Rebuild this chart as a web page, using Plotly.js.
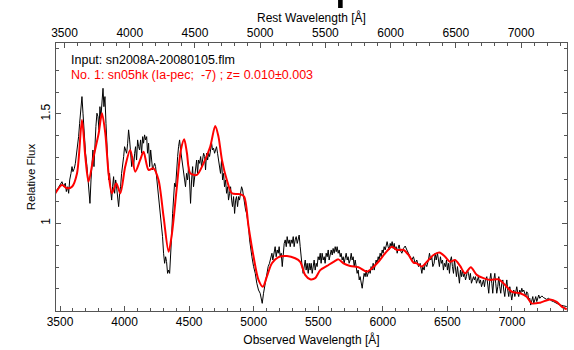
<!DOCTYPE html>
<html>
<head>
<meta charset="utf-8">
<script src="https://cdn.plot.ly/plotly-3.0.1.min.js"></script>
<style>html,body{margin:0;padding:0;background:#fff;}#chart{width:574px;height:350px;}</style>
</head>
<body>
<div id="chart"></div>
<script>
// Observed spectrum (black)
const blackWl = [3464,3490,3502,3515,3528,3541,3549,3559,3567,3575,3585,3593,3600,3611,3619,3626,3637,3644,3652,3662,3670,3678,3683,3691,3698,3709,3717,3724,3732,3740,3748,3755,3763,3771,3778,3786,3794,3802,3809,3817,3825,3833,3840,3848,3856,3864,3869,3877,3884,3892,3900,3907,3915,3923,3931,3938,3946,3954,3962,3969,3977,3985,3993,4000,4008,4016,4024,4031,4039,4047,4055,4062,4070,4078,4085,4093,4101,4109,4116,4124,4132,4140,4147,4155,4163,4171,4178,4186,4194,4202,4209,4217,4225,4233,4240,4248,4256,4264,4271,4279,4287,4294,4302,4310,4318,4325,4333,4341,4349,4356,4364,4372,4380,4387,4395,4403,4411,4418,4426,4434,4442,4449,4457,4465,4472,4480,4488,4496,4503,4511,4519,4527,4534,4542,4550,4558,4565,4573,4581,4589,4596,4604,4612,4620,4627,4635,4643,4651,4658,4666,4674,4681,4689,4697,4705,4712,4720,4728,4736,4743,4751,4759,4767,4774,4782,4790,4798,4805,4813,4821,4829,4836,4844,4852,4860,4867,4875,4883,4890,4898,4906,4914,4921,4929,4937,4945,4952,4960,4968,
4973,4986,4999,5012,5024,5037,5050,5058,5066,5076,5084,5092,5102,5112,5122,5133,5141,5148,5159,5166,5174,5182,5190,5197,5205,5213,5221,5228,5236,5244,5252,5259,5267,5275,5283,5290,5298,5306,5313,5321,5329,5337,5344,5352,5360,5368,5375,5383,5391,5399,5406,5414,5422,5430,5437,5445,5453,5461,5468,5476,5484,5491,5499,5507,5515,5522,5530,5538,5546,5553,5561,5569,5577,5584,5592,5600,5608,5615,5623,5631,5639,5646,5654,5662,5670,5677,5685,5693,5700,5708,5716,5724,5731,5739,5747,5755,5762,5770,5778,5786,5793,5801,5809,5817,5824,5832,5840,5848,5855,5863,5871,5878,5886,5894,5902,5909,5917,5925,5933,5940,5948,5956,5964,5971,5979,5987,5995,6002,6010,6018,6026,6033,6041,6049,6057,6064,6072,6080,6088,6095,6103,6111,6118,6126,6134,
6147,6160,6173,6186,6199,6211,6224,6237,6250,6263,6276,6289,6302,6309,6320,6328,6340,6353,6361,6371,6379,6387,6397,6405,6413,6423,6431,6438,6446,6454,6462,6469,6477,6485,6493,6500,6508,6516,6524,6531,6539,6547,6555,6562,6570,6578,6586,6593,6601,6609,6616,6624,6632,6640,6647,6655,6663,6671,6678,6686,6694,6702,6709,6717,6725,6733,6740,6748,6756,6764,6771,6779,6787,6794,6805,6813,6820,6828,6836,6844,6851,6859,6867,6874,6882,6890,6898,6905,6913,6921,6929,6936,6944,6952,6960,6967,6975,6983,6991,6998,7006,7014,7022,7029,7037,7045,7052,7060,7068,7076,7083,7091,7099,7107,7114,7122,7130,7138,7145,7153,7161,7169,7176,7184,7192,7200,7207,7215,7223,7231,7243,7256,7269,7282,7295,7308,7321,7334,7347,7372,7398,7424];
const blackFlux = [1.140,1.167,1.183,1.190,1.167,1.183,1.145,1.167,1.137,1.198,1.228,1.259,1.236,1.251,1.274,1.305,1.350,1.396,1.457,1.533,1.579,1.503,1.442,1.381,1.320,1.259,1.198,1.122,1.091,1.198,1.305,1.335,1.259,1.381,1.442,1.503,1.487,1.427,1.533,1.487,1.564,1.617,1.533,1.579,1.457,1.381,1.289,1.198,1.228,1.152,1.106,1.167,1.213,1.137,1.198,1.167,1.106,1.076,1.137,1.167,1.228,1.259,1.305,1.350,1.335,1.320,1.366,1.427,1.381,1.335,1.259,1.305,1.259,1.320,1.350,1.289,1.381,1.350,1.335,1.381,1.320,1.396,1.366,1.404,1.381,1.396,1.320,1.366,1.259,1.335,1.274,1.244,1.259,1.274,1.259,1.213,1.183,1.122,1.076,1.045,0.985,0.939,0.863,0.817,0.847,0.825,0.771,0.786,0.771,0.832,0.939,1.045,1.106,1.183,1.167,1.259,1.305,1.350,1.381,1.335,1.305,1.259,1.244,1.198,1.167,1.228,1.198,1.259,1.198,1.091,1.198,1.259,1.167,1.213,1.244,1.289,1.228,1.289,1.274,1.305,1.259,1.289,1.320,1.305,1.244,1.320,1.289,1.320,1.305,1.335,1.366,1.335,1.343,1.320,1.335,1.350,1.320,1.289,1.259,1.228,1.289,1.198,1.228,1.167,1.198,1.137,1.167,1.106,1.137,1.167,1.106,1.076,1.122,1.045,1.106,1.122,1.076,1.122,1.106,1.137,1.167,1.152,1.122,1.091,1.061,1.045,1.015,0.985,0.924,
0.908,0.847,0.802,0.771,0.726,0.695,0.680,0.649,0.634,0.680,0.710,0.741,0.771,0.802,0.817,0.847,0.863,0.832,0.878,0.893,0.847,0.878,0.863,0.893,0.847,0.863,0.802,0.863,0.908,0.924,0.893,0.939,0.908,0.924,0.893,0.924,0.908,0.939,0.893,0.924,0.939,0.908,0.924,0.946,0.893,0.832,0.802,0.771,0.802,0.832,0.786,0.817,0.771,0.817,0.786,0.817,0.771,0.802,0.832,0.786,0.817,0.802,0.847,0.832,0.863,0.817,0.863,0.832,0.847,0.817,0.863,0.847,0.878,0.832,0.863,0.878,0.855,0.885,0.863,0.893,0.870,0.893,0.863,0.878,0.847,0.863,0.832,0.847,0.817,0.847,0.863,0.832,0.847,0.817,0.832,0.863,0.832,0.847,0.802,0.832,0.786,0.771,0.786,0.741,0.756,0.726,0.703,0.741,0.771,0.756,0.786,0.756,0.771,0.786,0.771,0.802,0.786,0.817,0.786,0.817,0.832,0.817,0.847,0.832,0.863,0.847,0.878,0.863,0.893,0.878,0.908,0.916,0.893,0.878,0.908,0.893,0.916,0.885,0.908,0.878,0.893,0.863,0.885,0.901,0.878,
0.863,0.885,0.896,0.878,0.863,0.847,0.832,0.847,0.817,0.832,0.802,0.817,0.771,0.802,0.786,0.817,0.802,0.832,0.863,0.832,0.847,0.802,0.817,0.863,0.832,0.863,0.832,0.802,0.847,0.817,0.832,0.786,0.817,0.802,0.832,0.786,0.817,0.771,0.832,0.847,0.802,0.771,0.832,0.786,0.756,0.802,0.771,0.726,0.786,0.756,0.786,0.756,0.771,0.741,0.756,0.786,0.771,0.741,0.771,0.726,0.741,0.756,0.741,0.756,0.726,0.741,0.756,0.726,0.741,0.710,0.726,0.741,0.710,0.741,0.756,0.726,0.680,0.741,0.771,0.726,0.680,0.741,0.771,0.726,0.680,0.710,0.756,0.710,0.680,0.726,0.741,0.695,0.665,0.710,0.741,0.695,0.665,0.710,0.680,0.649,0.680,0.695,0.665,0.687,0.710,0.680,0.665,0.695,0.680,0.703,0.687,0.695,0.680,0.665,0.687,0.680,0.649,0.657,0.626,0.649,0.665,0.634,0.657,0.665,0.642,0.661,0.672,0.657,0.665,0.668,0.661,0.657,0.652,0.657,0.649,0.645,0.642,0.637,0.634,0.626,0.623,0.619];

// Template fit sn05hk (red)
const redWl = [3464,3515,3554,3593,3632,3670,3696,3721,3760,3799,3825,3851,3876,3902,3936,3967,4005,4044,4083,4121,4147,4186,4224,4263,4302,4341,4367,4405,4436,4462,4483,4508,4560,4611,4663,4702,4727,4754,4792,4831,4895,4926,4960,4999,5037,5071,5102,5141,5192,5257,5321,5360,5398,5437,5476,5515,5567,5618,5656,5695,5747,5811,5850,5876,5915,5966,6018,6070,6108,6160,6199,6237,6263,6302,6341,6392,6438,6482,6521,6559,6598,6637,6681,6727,6779,6831,6895,6947,6998,7063,7114,7153,7218,7295,7346,7385,7424];
const redFlux = [1.137,1.175,1.160,1.167,1.229,1.472,1.305,1.190,1.305,1.410,1.503,1.410,1.229,1.137,1.183,1.137,1.259,1.335,1.236,1.290,1.327,1.244,1.251,1.198,1.030,0.870,0.954,1.167,1.335,1.384,1.320,1.229,1.221,1.274,1.350,1.445,1.396,1.290,1.198,1.137,1.133,1.122,0.985,0.847,0.741,0.710,0.756,0.817,0.845,0.850,0.840,0.824,0.764,0.744,0.749,0.786,0.805,0.824,0.835,0.817,0.805,0.799,0.786,0.779,0.794,0.824,0.863,0.893,0.878,0.878,0.855,0.820,0.817,0.802,0.824,0.855,0.866,0.847,0.824,0.832,0.805,0.771,0.799,0.764,0.749,0.741,0.744,0.718,0.687,0.680,0.664,0.634,0.637,0.652,0.641,0.619,0.607];

const zFit = 0.010;
const obsRange = [3469, 7426];
const yRange = [0.599, 1.824];
const majorTicks = [3500,4000,4500,5000,5500,6000,6500,7000];
const inputLabel = 'Input: sn2008A-20080105.flm';
const fitLabel = 'No. 1: sn05hk (Ia-pec;&nbsp;&nbsp;-7) ; z=&nbsp;0.010±0.003';
const restTitle = 'Rest Wavelength [Å]';

const font = {family: 'Liberation Sans, Arial, sans-serif', size: 12, color: '#000'};
const textFont = {family: 'Liberation Sans, Arial, sans-serif', size: 12.5, color: '#000'};
const axisCol = '#555';

const traces = [
  {x: blackWl, y: blackFlux, type: 'scatter', mode: 'lines', line: {color: '#000', width: 1}, hoverinfo: 'skip'},
  {x: redWl, y: redFlux, type: 'scatter', mode: 'lines', line: {color: '#ff0000', width: 2, shape: 'spline', smoothing: 0.8}, hoverinfo: 'skip'},
  // empty trace so the rest-frame axis is drawn
  {x: [], y: [], type: 'scatter', mode: 'lines', xaxis: 'x2', yaxis: 'y', hoverinfo: 'skip'}
];

const layout = {
  width: 574, height: 350,
  margin: {l: 56, r: 7, t: 43, b: 39},
  paper_bgcolor: '#fff', plot_bgcolor: '#fff',
  showlegend: false,
  font: font,
  xaxis: {
    range: obsRange, tickmode: 'array', tickvals: majorTicks,
    ticks: 'inside', ticklen: 5, tickcolor: axisCol, tickwidth: 1,
    minor: {dtick: 100, tick0: 3500, ticks: 'inside', ticklen: 3, tickcolor: axisCol},
    showline: true, linecolor: axisCol, linewidth: 1, mirror: false,
    showgrid: false, zeroline: false, tickfont: font,
    title: {text: 'Observed Wavelength [Å]', font: font, standoff: 7}
  },
  xaxis2: {
    overlaying: 'x', side: 'top', anchor: 'y',
    range: [obsRange[0]/(1+zFit), obsRange[1]/(1+zFit)], autorange: false,
    tickmode: 'array', tickvals: majorTicks,
    ticks: 'inside', ticklen: 5, tickcolor: axisCol,
    minor: {dtick: 100, tick0: 3500, ticks: 'inside', ticklen: 3, tickcolor: axisCol},
    showline: true, linecolor: axisCol, linewidth: 1,
    showgrid: false, zeroline: false, tickfont: font
  },
  yaxis: {
    range: yRange, tickmode: 'linear', tick0: 1, dtick: 0.5, tickangle: -90,
    ticks: 'inside', ticklen: 5, tickcolor: axisCol,
    minor: {dtick: 0.1, ticks: 'inside', ticklen: 3, tickcolor: axisCol},
    showline: true, linecolor: axisCol, linewidth: 1, mirror: 'ticks',
    showgrid: false, zeroline: false, tickfont: font,
    title: {text: 'Relative Flux', font: {family: font.family, size: 11.5, color: '#000'}, standoff: 1}
  },
  annotations: [
    {xref: 'paper', yref: 'paper', x: 0.5, y: 1.0933, xanchor: 'center', yanchor: 'middle', text: restTitle, showarrow: false, font: font},
    {xref: 'paper', yref: 'paper', x: 0.025, y: 0.9366, xanchor: 'left', yanchor: 'middle', text: inputLabel, showarrow: false, font: textFont},
    {xref: 'paper', yref: 'paper', x: 0.025, y: 0.8806, xanchor: 'left', yanchor: 'middle', text: fitLabel, showarrow: false, font: {family: textFont.family, size: 12.5, color: '#ff0000'}}
  ],
  shapes: [
    {type: 'rect', xref: 'paper', yref: 'paper', x0: 0.552, x1: 0.561, y0: 1.1306, y1: 1.17, fillcolor: '#000', line: {width: 0}}
  ]
};

Plotly.newPlot('chart', traces, layout, {staticPlot: true, displayModeBar: false});
</script>
</body>
</html>
